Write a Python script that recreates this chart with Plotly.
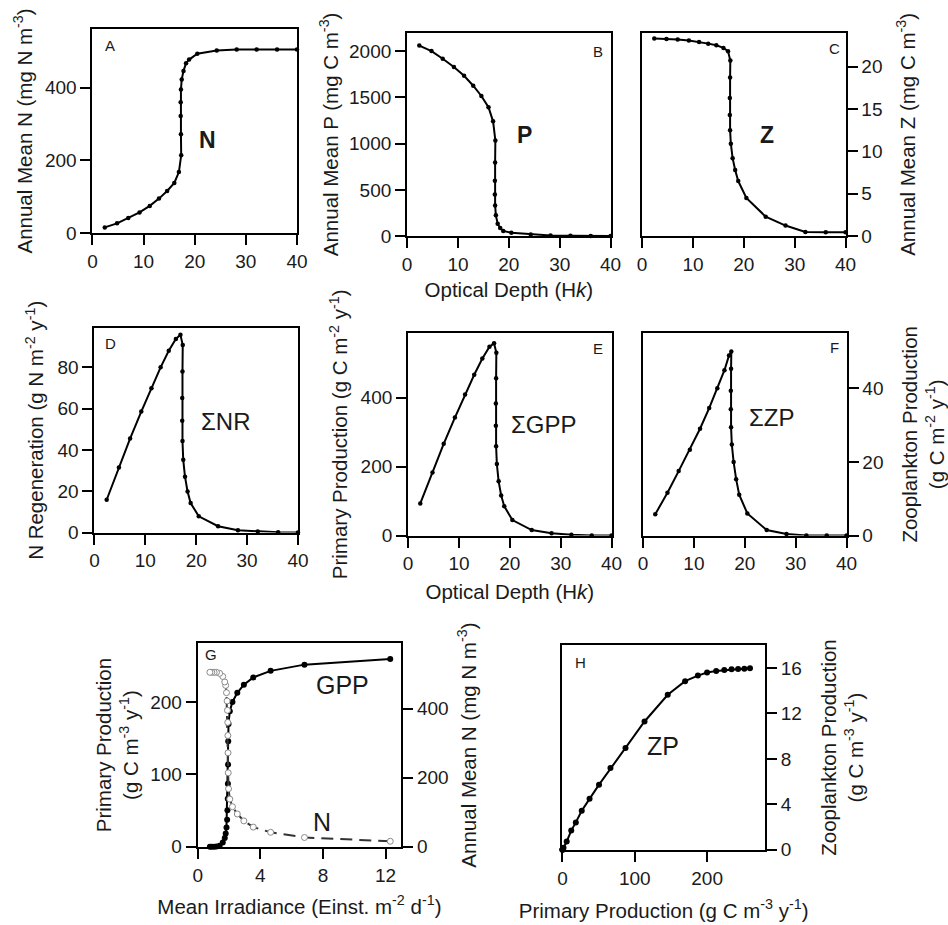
import plotly.graph_objects as go

# ---------------- data ----------------
optical_depth = [2.4, 4.8, 7.0, 9.2, 11.2, 13.0, 14.6, 16.0, 16.9, 17.35, 17.3, 17.25,
                 17.25, 17.3, 17.45, 17.8, 18.3, 18.9, 20.5, 24.3, 28.2, 32.1, 36.1, 40.0]
mean_n = [16, 27, 42, 57, 75, 95, 116, 138, 168, 214, 272, 322,
          360, 395, 422, 446, 467, 477, 493, 502, 505, 505, 505, 505]
mean_p = [2060, 2000, 1918, 1829, 1733, 1626, 1515, 1394, 1241, 1034, 795, 599,
          449, 332, 225, 135, 89, 57, 36, 18, 7, 4, 3, 2]
mean_z = [23.3, 23.26, 23.2, 23.07, 22.9, 22.7, 22.5, 22.2, 21.8, 20.7, 18.7, 16.3,
          14.3, 12.5, 10.9, 9.2, 7.8, 6.5, 4.5, 2.3, 1.25, 0.5, 0.47, 0.47]
sum_nr = [15.9, 31.5, 45.5, 58.6, 69.9, 80, 88, 93.7, 95.7, 90.8, 78, 65.2,
          54.1, 44.3, 35.2, 27, 19.9, 14.3, 7.9, 3.1, 1.1, 0.5, 0.2, 0]
sum_gpp = [93, 183, 266, 342, 409, 466, 513, 547, 557, 530, 456, 383,
           318, 259, 207, 157, 116, 85, 45, 16, 7, 2, 0.5, 0]
sum_zp = [5.8, 11.6, 17.5, 23.3, 29.0, 34.6, 40, 44.9, 48.9, 50, 45.3, 39.3,
          34.3, 29.4, 24.7, 20, 15.3, 11.1, 6.0, 1.5, 0.45, 0, 0, 0]
mean_irradiance = [12.3, 6.82, 4.66, 3.55, 2.95, 2.53, 2.22, 2.05, 1.97, 1.95, 1.94, 1.93,
                   1.92, 1.9, 1.88, 1.84, 1.79, 1.73, 1.6, 1.4, 1.2, 1.05, 0.9, 0.78]
gpp_volume = [259.3, 251.5, 242.9, 233.8, 223.8, 212.6, 200, 187.3, 169.6, 145.6, 113.5, 87.2,
              66.4, 50.6, 37.5, 26.7, 18.5, 12.2, 5.9, 1.5, 0.5, 0.2, 0.1, 0]
zp_volume = [15.97, 15.94, 15.9, 15.88, 15.83, 15.74, 15.6, 15.33, 14.84, 13.64, 11.29, 8.96,
             7.19, 5.73, 4.48, 3.43, 2.41, 1.69, 0.73, 0.18, 0.06, 0.02, 0.01, 0]

# ---------------- layout helpers ----------------
W, H = 948, 925
FONT = "Liberation Sans, Arial, sans-serif"
TICK_SIZE = 19
TITLE_SIZE = 20.5
TXT = "#1a1a1a"


def sfx(i):
    return "" if i == 1 else str(i)


def dx(l, r):
    return [l / W, r / W]


def dy(t, b):
    return [1 - b / H, 1 - t / H]


def axis(domain, rng, dtick, anchor, title="", side=None, standoff=None, mirror=True):
    d = dict(domain=domain, range=rng, dtick=dtick, tick0=0, anchor=anchor,
             showline=True, mirror=mirror, linecolor="black", linewidth=2,
             ticks="outside", ticklen=10, tickwidth=2, tickcolor="black",
             showgrid=False, zeroline=False, fixedrange=True,
             tickfont=dict(family=FONT, size=TICK_SIZE, color=TXT),
             title=dict(text=title, font=dict(family=FONT, size=TITLE_SIZE, color=TXT)))
    if side:
        d["side"] = side
    if standoff is not None:
        d["title"]["standoff"] = standoff
    return d


ODT = "Optical Depth (H<i>k</i>)"

# panel boxes in pixels: (left, right, top, bottom)
boxes = {
    "A": (89, 297, 29, 236),
    "B": (409, 616, 33, 239),
    "C": (648, 855, 33, 239),
    "D": (91, 298, 332, 539),
    "E": (410, 617, 337, 542),
    "F": (649, 856, 337, 542),
    "G": (196, 403, 651, 857),
    "H": (567, 773, 653, 860),
}

layout = dict(width=W, height=H, margin=dict(l=0, r=0, t=0, b=0),
              paper_bgcolor="white", plot_bgcolor="white", showlegend=False,
              font=dict(family=FONT, color=TXT))

specs = [
    # key, idx, xrange, xdtick, yrange, ydtick, yside, xtitle, ytitle, x standoff, y standoff
    ("A", 1, [0, 40], 10, [0, 562], 200, "left", "", "Annual Mean N (mg N m<sup>-3</sup>)", 9, 7),
    ("B", 2, [0, 40], 10, [0, 2200], 500, "left", ODT, "Annual Mean P (mg C m<sup>-3</sup>)", 9, 5),
    ("C", 3, [0, 40], 10, [0, 24], 5, "right", "", "Annual Mean Z (mg C m<sup>-3</sup>)", 9, 19),
    ("D", 4, [0, 40], 10, [0, 99], 20, "left", "", "N Regeneration (g N m<sup>-2</sup> y<sup>-1</sup>)", 9, 8),
    ("E", 5, [0, 40], 10, [0, 587], 200, "left", ODT, "Primary Production (g C m<sup>-2</sup> y<sup>-1</sup>)", 11, 7),
    ("F", 6, [0, 40], 10, [0, 55], 20, "right", "", "Zooplankton Production<br>(g C m<sup>-2</sup> y<sup>-1</sup>)", 9, 21),
    ("G", 7, [0, 13], 4, [0, 281], 100, "left", "Mean Irradiance (Einst. m<sup>-2</sup> d<sup>-1</sup>)",
     "Primary Production<br>(g C m<sup>-3</sup> y<sup>-1</sup>)", 15, 6),
    ("H", 8, [0, 280], 100, [0, 18], 4, "right", "Primary Production (g C m<sup>-3</sup> y<sup>-1</sup>)",
     "Zooplankton Production<br>(g C m<sup>-3</sup> y<sup>-1</sup>)", 16, 21),
]

for key, i, xr, xdt, yr, ydt, yside, xt, yt, xso, yso in specs:
    l, r, t, b = boxes[key]
    layout[f"xaxis{sfx(i)}"] = axis(dx(l, r), xr, xdt, f"y{sfx(i)}", xt, standoff=xso)
    layout[f"yaxis{sfx(i)}"] = axis(dy(t, b), yr, ydt, f"x{sfx(i)}", yt, side=yside, standoff=yso)

# G right axis (N)
l, r, t, b = boxes["G"]
layout["yaxis9"] = axis(dy(t, b), [0, 589], 200, "x7", "Annual Mean N (mg N m<sup>-3</sup>)",
                        side="right", standoff=14, mirror=False)
layout["yaxis9"]["overlaying"] = "y7"

fig = go.Figure(layout=layout)


def line_trace(x, y, i, msize=4.5):
    return go.Scatter(x=x, y=y, mode="lines+markers", xaxis=f"x{sfx(i)}", yaxis=f"y{sfx(i)}",
                      line=dict(color="black", width=2),
                      marker=dict(size=msize, color="black"),
                      cliponaxis=False, hoverinfo="x+y")


fig.add_trace(line_trace(optical_depth, mean_n, 1))
fig.add_trace(line_trace(optical_depth, mean_p, 2))
fig.add_trace(line_trace(optical_depth, mean_z, 3))
fig.add_trace(line_trace(optical_depth, sum_nr, 4))
fig.add_trace(line_trace(optical_depth, sum_gpp, 5))
fig.add_trace(line_trace(optical_depth, sum_zp, 6))
# G: N (open circles, dashed) on right axis, GPP on left
fig.add_trace(go.Scatter(x=mean_irradiance, y=mean_n, mode="lines+markers", xaxis="x7", yaxis="y9",
                         line=dict(color="#333333", width=2, dash="12px,7px"),
                         marker=dict(size=6, color="white", line=dict(color="#8a8a8a", width=1)),
                         cliponaxis=False))
fig.add_trace(line_trace(mean_irradiance, gpp_volume, 7, msize=6))
fig.add_trace(line_trace(gpp_volume, zp_volume, 8, msize=6))


# ---------------- labels ----------------
def label(i, fx, fy, text, size, bold=False):
    fig.add_annotation(xref=f"x{sfx(i)} domain", yref=f"y{sfx(i)} domain", x=fx, y=fy,
                       text=(f"<b>{text}</b>" if bold else text),
                       showarrow=False, xanchor="center", yanchor="middle",
                       font=dict(family=FONT, size=size, color=TXT))


letters = [("A", 1, 0.087, 0.918), ("B", 2, 0.937, 0.908), ("C", 3, 0.947, 0.922),
           ("D", 4, 0.077, 0.923), ("E", 5, 0.932, 0.922), ("F", 6, 0.942, 0.927),
           ("G", 7, 0.063, 0.947), ("H", 8, 0.087, 0.918)]
for txt, i, fx, fy in letters:
    label(i, fx, fy, txt, 15)

label(1, 0.5625, 0.454, "N", 23, bold=True)
label(2, 0.575, 0.495, "P", 23, bold=True)
label(3, 0.613, 0.495, "Z", 23, bold=True)
label(4, 0.647, 0.541, "ΣNR", 24)
label(5, 0.667, 0.546, "ΣGPP", 24)
label(6, 0.633, 0.585, "ΣZP", 24)
label(7, 0.71, 0.796, "GPP", 25)
label(7, 0.609, 0.121, "N", 25)
label(8, 0.495, 0.507, "ZP", 25)

fig.write_html("out.html")
